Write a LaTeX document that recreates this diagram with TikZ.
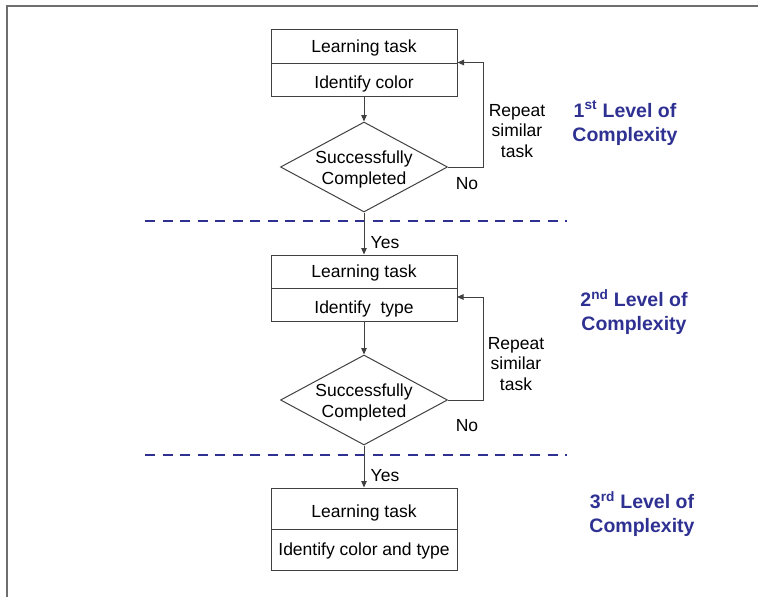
\documentclass[tikz,border=0pt]{standalone}
\usepackage{fontspec}
\setmainfont{Liberation Sans}
\usepackage{tikz}
\usetikzlibrary{calc,shapes.geometric,arrows.meta}
\usepackage{xcolor}
\definecolor{lvlblue}{RGB}{46,49,146}
\definecolor{linegray}{RGB}{64,64,64}
\definecolor{framegray}{RGB}{110,110,110}

\tikzset{
  taskbox/.style={draw=linegray,line width=1pt,minimum width=186pt,minimum height=#1,inner sep=0pt,text height=12.5pt,text depth=0pt},
  lowtext/.style={text height=18pt},
  decision/.style={draw=linegray,line width=1pt,shape=diamond,minimum width=167pt,minimum height=90pt,inner sep=0pt},
  flow/.style={draw=linegray,line width=1pt,-{Triangle[length=6.5pt,width=5.5pt]}},
  levelsep/.style={draw=lvlblue,line width=2.5pt,dash pattern=on 10pt off 7.5pt},
  leveltxt/.style={text=lvlblue,align=center,yshift=-1pt,font=\fontsize{19.5pt}{24pt}\bfseries\selectfont},
  repeattxt/.style={align=center,yshift=-1pt,font=\fontsize{17.5pt}{20.5pt}\selectfont},
  dectxt/.style={align=center,yshift=-2pt},
}

\begin{document}
\begin{tikzpicture}[x=1pt,y=-1pt,font=\fontsize{17.5pt}{21pt}\selectfont]
% centre line & feedback column
\newcommand{\cx}{364}
\newcommand{\fbx}{35}

\useasboundingbox (0,0) rectangle (758,597);
% Frame
\draw[framegray,line width=1.5pt] (7,597)--(7,6)--(758,6);

% First level
\node[taskbox=34pt] (task1) at (\cx,46) {Learning task};
\node[taskbox=33pt,lowtext] (id1) at (\cx,79.5) {Identify color};
\node[decision,label={[dectxt]center:Successfully\\Completed}] (dec1) at (\cx,167) {};
\draw[flow] (id1) -- (dec1);
\draw[flow] (dec1.east) -- ++(\fbx,0) |- (id1.north east);
\node[yshift=-1pt] (no1) at (467,183) {No};
\node[repeattxt] (rep1) at (517,130) {Repeat\\similar\\task};
\node[leveltxt] (lvl1) at (625,122) {1\textsuperscript{st} Level of\\Complexity};
% Separator
\coordinate (sepAl) at (145,221);
\coordinate (sepAr) at (567,221);
\draw[levelsep] (sepAl) -- (sepAr);

% Second level
\node[taskbox=33pt] (task2) at (\cx,271.5) {Learning task};
\node[taskbox=33pt,lowtext] (id2) at (\cx,304.5) {Identify\ \ type};
\node[decision,label={[dectxt]center:Successfully\\Completed}] (dec2) at (\cx,400) {};
\coordinate (back2) at (457,297);
\draw[flow] (dec1) -- (task2);
\node[yshift=-1pt] (yes1) at (385,242) {Yes};
\draw[flow] (id2) -- (dec2);
\draw[flow] (dec2.east) -- ++(\fbx,0) |- (back2);
\node[yshift=-1pt] (no2) at (467,425) {No};
\node[repeattxt] (rep2) at (516,363) {Repeat\\similar\\task};
\node[leveltxt] (lvl2) at (634,311) {2\textsuperscript{nd} Level of\\Complexity};
% Separator
\coordinate (sepBl) at (145,455);
\coordinate (sepBr) at (567,455);
\draw[levelsep] (sepBl) -- (sepBr);

% Third level
\node[taskbox=41pt,lowtext] (task3) at (\cx,508.5) {Learning task};
\node[taskbox=41pt] (id3) at (\cx,549.5) {Identify color and type};
\draw[flow] (dec2) -- (task3);
\node[yshift=-1pt] (yes2) at (385,475) {Yes};
\node[leveltxt] (lvl3) at (642,513) {3\textsuperscript{rd} Level of\\Complexity};
\end{tikzpicture}
\end{document}
